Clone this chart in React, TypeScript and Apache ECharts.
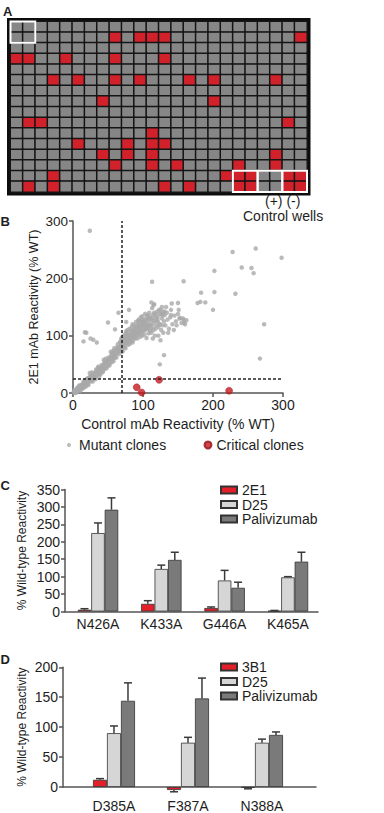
import { useEffect, useRef } from "react";
import * as echarts from "echarts";

// ---------- Panel A: 384-well screening plate ----------
const plateCols = 24;
const plateRows = 16;
// [column, row] of wells scored as hits
const hitWells: number[][] = [
  [8, 1], [10, 1], [11, 1], [12, 1], [23, 1],
  [0, 3], [1, 3], [4, 3], [8, 3], [12, 3],
  [3, 5], [5, 5], [8, 5], [10, 5], [14, 5], [16, 5], [21, 5],
  [7, 7], [16, 7],
  [1, 9], [2, 9], [22, 9],
  [11, 10],
  [5, 11], [9, 11], [11, 11], [12, 11],
  [7, 12], [9, 12], [11, 12], [21, 12],
  [8, 13], [11, 13], [13, 13], [18, 13], [21, 13],
  [3, 14], [17, 14], [18, 14], [19, 14], [22, 14], [23, 14],
  [1, 15], [3, 15], [12, 15], [14, 15], [18, 15], [19, 15], [22, 15], [23, 15],
];
// top-left well of each outlined 2x2 block
const controlBlocks: number[][] = [[0, 0], [18, 14], [20, 14], [22, 14]];

// ---------- Panel B: reactivity screen ----------
const controlCutoff = 70;
const epitopeCutoff = 25;
const mutantClones: number[][] = [
  [1, 2], [2, 1], [3, 4], [4, 2], [5, 6], [6, 3], [7, 8], [8, 5], [9, 10], [10, 7], [2, 5], [5, 1], [8, 11], [3, 0], [6, 9], [10, 4], [9, 13],
  [11, 9], [12, 14], [13, 10], [14, 16], [15, 12], [16, 18], [17, 13], [18, 20], [19, 15], [12, 6], [15, 20], [18, 11], [20, 22], [11, 13], [14, 8], [17, 22], [19, 24],
  [21, 17], [22, 24], [23, 19], [24, 27], [25, 22], [26, 29], [27, 24], [28, 31], [29, 26], [30, 33], [22, 14], [25, 30], [28, 20], [24, 35], [27, 36], [30, 28], [21, 26],
  [31, 30], [32, 36], [33, 28], [34, 38], [35, 33], [36, 40], [37, 35], [38, 42], [39, 37], [40, 45], [32, 24], [35, 42], [38, 30], [40, 38], [36, 46], [33, 41],
  [41, 40], [42, 47], [43, 44], [44, 50], [45, 42], [46, 52], [47, 47], [48, 55], [49, 50], [50, 57], [42, 36], [45, 55], [48, 43], [50, 48], [44, 58], [47, 60],
  [51, 55], [52, 60], [53, 52], [54, 63], [55, 58], [56, 66], [57, 60], [58, 68], [59, 63], [60, 70], [52, 48], [55, 68], [58, 56], [60, 62], [54, 72], [57, 73], [59, 78],
  [61, 67], [62, 74], [63, 70], [64, 77], [65, 72], [66, 80], [67, 75], [68, 83], [69, 78], [70, 86], [62, 62], [64, 85], [66, 68], [68, 90], [70, 72], [63, 80], [67, 88], [69, 95],
  [71, 80], [72, 88], [73, 84], [74, 92], [75, 86], [76, 95], [77, 90], [78, 98], [79, 93], [80, 100], [71, 73], [73, 100], [75, 78], [77, 104], [79, 84], [72, 94], [76, 108], [78, 88], [80, 92], [74, 80],
  [81, 95], [82, 102], [83, 90], [84, 106], [85, 98], [86, 110], [87, 100], [88, 112], [89, 96], [90, 115], [81, 86], [83, 108], [85, 88], [87, 118], [89, 104], [82, 96], [84, 115], [86, 92], [88, 106], [90, 100],
  [91, 108], [92, 118], [93, 102], [94, 120], [95, 110], [96, 124], [97, 105], [98, 114], [99, 128], [100, 108], [92, 95], [94, 112], [96, 98], [98, 122], [100, 118], [93, 126], [95, 104], [97, 132], [99, 100],
  [101, 115], [102, 125], [103, 110], [104, 130], [105, 120], [106, 112], [107, 135], [108, 118], [109, 126], [110, 108], [102, 102], [104, 122], [106, 128], [108, 104], [110, 132], [103, 138], [105, 96], [107, 115], [109, 140],
  [111, 120], [112, 128], [113, 115], [114, 136], [115, 110], [116, 126], [117, 100], [118, 134], [119, 118], [120, 142], [112, 105], [114, 95], [116, 140], [118, 112], [120, 125], [113, 148],
  [121, 132], [122, 115], [123, 138], [124, 120], [125, 145], [126, 110], [127, 130], [128, 118], [129, 142], [130, 125], [122, 100], [125, 92], [127, 150], [129, 105], [131, 136],
  [132, 118], [134, 140], [135, 128], [137, 112], [139, 132], [140, 145], [142, 120], [145, 135], [147, 125], [150, 138], [133, 150], [136, 105], [141, 156], [144, 110], [148, 118], [152, 130], [155, 122], [158, 128], [160, 120],
  [15, 10], [18, 17], [20, 14], [23, 25], [26, 21], [28, 27], [31, 35], [34, 31], [37, 44], [39, 33], [41, 49], [43, 38], [46, 44], [48, 51], [51, 62],
  [53, 58], [56, 54], [58, 72], [61, 75], [62, 69], [65, 79], [66, 74], [68, 79], [70, 93], [71, 98], [72, 84], [74, 99], [75, 104], [76, 88], [78, 110],
  [79, 102], [81, 112], [82, 90], [84, 98], [85, 120], [86, 104], [88, 96], [90, 124], [91, 113], [92, 106], [94, 128], [95, 118], [96, 114], [98, 108], [99, 134],
  [100, 126], [101, 122], [103, 118], [104, 112], [106, 136], [108, 130], [110, 118], [111, 112], [113, 130], [115, 122], [117, 138], [119, 130], [121, 126], [123, 145], [126, 138], [128, 135],
  [24, 283], [113, 194], [158, 195], [228, 246], [261, 252], [298, 236], [241, 219], [255, 218], [258, 209], [202, 213],
  [202, 176], [183, 175], [232, 173], [200, 145], [273, 120], [267, 60], [178, 157], [182, 159], [189, 158], [150, 157],
  [151, 145], [153, 131], [159, 123], [162, 127], [157, 130], [140, 136], [131, 142], [127, 138], [115, 153], [116, 155],
  [80, 145], [65, 140], [50, 123], [60, 111], [19, 105], [15, 90], [34, 88], [29, 93], [124, 50], [130, 66],
  [25, 95], [17, 106], [76, 124], [112, 158], [124, 120],
];
const criticalClones: number[][] = [[91, 10], [98, 1], [123, 23], [223, 4]];

// ---------- Panel C: 2E1 epitope mutants ----------
const cMutants = ["N426A", "K433A", "G446A", "K465A"];
const c2E1 = [5, 22, 10, 2];
const c2E1Sd = [3, 9, 3, 1];
const cD25 = [225, 122, 89, 98];
const cD25Sd = [29, 11, 29, 2];
const cPali = [292, 148, 68, 143];
const cPaliSd = [34, 22, 16, 27];

// ---------- Panel D: 3B1 epitope mutants ----------
const dMutants = ["D385A", "F387A", "N388A"];
const d3B1 = [12, -5, -1];
const d3B1Sd = [2, 3, 2];
const dD25 = [90, 74, 74];
const dD25Sd = [12, 9, 6];
const dPali = [144, 148, 87];
const dPaliSd = [30, 34, 5];

const FONT = "'Liberation Sans', Arial, Helvetica, sans-serif";
const INK = "#1e1e1e";
const AXIS = "#555555";
const RED = "#e3202a";
const LIGHT = "#d6d6d6";
const DARK = "#7a7a7a";

const pairs = (vals: number[]) => vals.map((v, i) => [i, v]);
const errRows = (vals: number[], sds: number[], slot: number) =>
  vals.map((v, i) => [i, v, sds[i], slot]);

function errorBarItem(barWidth: number) {
  return (_params: any, api: any) => {
    const xi = api.value(0);
    const mean = api.value(1);
    const sd = api.value(2);
    const slot = api.value(3);
    const base = api.coord([xi, mean]);
    const tip = api.coord([xi, mean < 0 ? mean - sd : mean + sd]);
    const x = base[0] + (slot - 1) * barWidth;
    const style = { stroke: "#3a3a3a", lineWidth: 1.5 };
    return {
      type: "group",
      children: [
        { type: "line", shape: { x1: x, y1: base[1], x2: x, y2: tip[1] }, style },
        { type: "line", shape: { x1: x - 4, y1: tip[1], x2: x + 4, y2: tip[1] }, style },
      ],
    };
  };
}

const axisLine = { show: true, onZero: false, lineStyle: { color: AXIS, width: 1.5 } };
const axisTick = { show: true, length: 4, lineStyle: { color: AXIS, width: 1.5 } };
const tickLabel = { fontSize: 14, color: INK, fontFamily: FONT, margin: 5 };

export default function App() {
  const ref = useRef<HTMLDivElement>(null);

  useEffect(() => {
    if (!ref.current) return;
    const chart = echarts.init(ref.current, undefined, { renderer: "svg" });

    const hitSet = new Set(hitWells.map(([c, r]) => `${c}-${r}`));
    const plateData: number[][] = [];
    for (let r = 0; r < plateRows; r++) {
      for (let c = 0; c < plateCols; c++) {
        plateData.push([c, r, hitSet.has(`${c}-${r}`) ? 1 : 0]);
      }
    }
    const colNames = Array.from({ length: plateCols }, (_, i) => String(i + 1));
    const rowNames = Array.from({ length: plateRows }, (_, i) => String.fromCharCode(65 + i));

    const barStyle = (color: string) => ({ color, borderColor: "#333", borderWidth: 0.8 });
    const CW = 13.5;
    const DW = 14;

    const option: any = {
      animation: false,
      textStyle: { fontFamily: FONT, color: INK },
      grid: [
        { left: 10.5, top: 21.5, width: 296.5, height: 170.5, show: true, borderColor: "#0d0d0d", borderWidth: 7, backgroundColor: "transparent" },
        { left: 73, top: 221, width: 210, height: 172 },
        { left: 65, top: 489.5, width: 253, height: 122 },
        { left: 63, top: 667.3, width: 253, height: 120.4 },
      ],
      visualMap: {
        type: "piecewise",
        show: false,
        seriesIndex: 0,
        dimension: 2,
        pieces: [
          { value: 0, color: "#868686" },
          { value: 1, color: "#d1212a" },
        ],
      },
      xAxis: [
        { type: "category", gridIndex: 0, data: colNames, show: false },
        {
          type: "value", gridIndex: 1, min: 0, max: 300, interval: 100,
          name: "Control mAb Reactivity (% WT)", nameLocation: "middle", nameGap: 24, nameMoveOverlap: false,
          nameTextStyle: { fontSize: 14, color: INK, fontFamily: FONT },
          axisLine, axisTick, axisLabel: tickLabel, splitLine: { show: false },
        },
        {
          type: "value", gridIndex: 2, min: -0.521, max: 3.475,
          axisLine, axisTick: { show: false }, splitLine: { show: false },
          axisLabel: { ...tickLabel, customValues: [0, 1, 2, 3], formatter: (v: number) => cMutants[Math.round(v)] ?? "" },
        },
        {
          type: "value", gridIndex: 3, min: -0.689, max: 2.73,
          axisLine, axisTick: { show: false }, splitLine: { show: false },
          axisLabel: { ...tickLabel, margin: 12, customValues: [0, 1, 2], formatter: (v: number) => dMutants[Math.round(v)] ?? "" },
        },
      ],
      yAxis: [
        { type: "category", gridIndex: 0, data: rowNames, inverse: true, show: false },
        {
          type: "value", gridIndex: 1, min: 0, max: 300, interval: 100,
          name: "2E1 mAb Reactivity (% WT)", nameLocation: "middle", nameGap: 33, nameRotate: 90, nameMoveOverlap: false,
          nameTextStyle: { fontSize: 12.5, color: INK, fontFamily: FONT },
          axisLine, axisTick, axisLabel: { ...tickLabel, fontSize: 13.5 }, splitLine: { show: false },
        },
        {
          type: "value", gridIndex: 2, min: 0, max: 350, interval: 50,
          name: "% Wild-type Reactivity", nameLocation: "middle", nameGap: 37, nameRotate: 90, nameMoveOverlap: false,
          nameTextStyle: { fontSize: 12, color: INK, fontFamily: FONT },
          axisLine, axisTick, axisLabel: tickLabel, splitLine: { show: false },
        },
        {
          type: "value", gridIndex: 3, min: 0, max: 200, interval: 50,
          name: "% Wild-type Reactivity", nameLocation: "middle", nameGap: 35, nameRotate: 90, nameMoveOverlap: false,
          nameTextStyle: { fontSize: 12, color: INK, fontFamily: FONT },
          axisLine, axisTick, axisLabel: tickLabel, splitLine: { show: false },
        },
      ],
      legend: [
        {
          data: ["Mutant clones"], left: 67, top: 438, padding: 0, icon: "circle",
          itemWidth: 4, itemHeight: 4, selectedMode: false,
          textStyle: { fontSize: 14, color: INK, fontFamily: FONT, padding: [0, 0, 0, 3] },
        },
        {
          data: ["Critical clones"], left: 203.5, top: 438, padding: 0, icon: "circle",
          itemWidth: 7, itemHeight: 7, selectedMode: false,
          textStyle: { fontSize: 14, color: INK, fontFamily: FONT },
        },
        {
          data: ["2E1", "D25", "Palivizumab"], orient: "vertical", left: 220, top: 483, padding: 0,
          icon: "rect", itemWidth: 16, itemHeight: 7, itemGap: 0.5, selectedMode: false,
          textStyle: { fontSize: 14, lineHeight: 14, color: INK, fontFamily: FONT },
        },
        {
          data: ["3B1", "D25", "Palivizumab"], orient: "vertical", left: 220, top: 660, padding: 0,
          icon: "rect", itemWidth: 16, itemHeight: 7, itemGap: 0.5, selectedMode: false,
          textStyle: { fontSize: 14, lineHeight: 14, color: INK, fontFamily: FONT },
        },
      ],
      graphic: [
        { type: "text", x: 3, y: 11.5, style: { text: "A", fontSize: 13, fontWeight: "bold", fontFamily: FONT, fill: INK, verticalAlign: "middle" } },
        { type: "text", x: 0.5, y: 221, style: { text: "B", fontSize: 13, fontWeight: "bold", fontFamily: FONT, fill: INK, verticalAlign: "middle" } },
        { type: "text", x: 0.5, y: 485.5, style: { text: "C", fontSize: 13, fontWeight: "bold", fontFamily: FONT, fill: INK, verticalAlign: "middle" } },
        { type: "text", x: 0.5, y: 659, style: { text: "D", fontSize: 13, fontWeight: "bold", fontFamily: FONT, fill: INK, verticalAlign: "middle" } },
        { type: "text", x: 265, y: 201, style: { text: "(+) (-)", fontSize: 14, fontFamily: FONT, fill: INK, verticalAlign: "middle" } },
        { type: "text", x: 243, y: 216, style: { text: "Control wells", fontSize: 14, fontFamily: FONT, fill: INK, verticalAlign: "middle" } },
      ],
      series: [
        {
          type: "heatmap", xAxisIndex: 0, yAxisIndex: 0, data: plateData,
          itemStyle: { borderColor: "#151515", borderWidth: 1.5 },
          emphasis: { disabled: true }, silent: true,
        },
        {
          type: "custom", xAxisIndex: 0, yAxisIndex: 0, data: controlBlocks, silent: true, z: 5,
          renderItem: (_p: any, api: any) => {
            const c = api.coord([api.value(0), api.value(1)]);
            const s = api.size([1, 1]);
            return {
              type: "rect",
              shape: { x: c[0] - s[0] / 2, y: c[1] - s[1] / 2, width: s[0] * 2, height: s[1] * 2 },
              style: { fill: "none", stroke: "#ffffff", lineWidth: 2 },
            };
          },
        },
        {
          name: "Mutant clones", type: "scatter", xAxisIndex: 1, yAxisIndex: 1, data: mutantClones,
          symbolSize: 4.5, itemStyle: { color: "#a9a9a9" }, silent: true,
        },
        {
          name: "Critical clones", type: "scatter", xAxisIndex: 1, yAxisIndex: 1, data: criticalClones,
          symbolSize: 7, itemStyle: { color: "#c8161d", borderColor: "#8e1016", borderWidth: 0.5 }, z: 4, silent: true,
          markLine: {
            silent: true, symbol: "none", label: { show: false },
            lineStyle: { color: "#222", width: 1.5, type: [3, 2] },
            data: [{ xAxis: controlCutoff }, { yAxis: epitopeCutoff }],
          },
        },
        { name: "2E1", type: "bar", xAxisIndex: 2, yAxisIndex: 2, data: pairs(c2E1), barWidth: CW, barGap: "0%", itemStyle: barStyle(RED), clip: false, silent: true },
        { name: "D25", type: "bar", xAxisIndex: 2, yAxisIndex: 2, data: pairs(cD25), barWidth: CW, barGap: "0%", itemStyle: barStyle(LIGHT), clip: false, silent: true },
        { name: "Palivizumab", type: "bar", xAxisIndex: 2, yAxisIndex: 2, data: pairs(cPali), barWidth: CW, barGap: "0%", itemStyle: barStyle(DARK), clip: false, silent: true },
        {
          type: "custom", xAxisIndex: 2, yAxisIndex: 2, clip: false, silent: true,
          data: [...errRows(c2E1, c2E1Sd, 0), ...errRows(cD25, cD25Sd, 1), ...errRows(cPali, cPaliSd, 2)],
          renderItem: errorBarItem(CW),
        },
        { name: "3B1", type: "bar", xAxisIndex: 3, yAxisIndex: 3, data: pairs(d3B1), barWidth: DW, barGap: "0%", itemStyle: barStyle(RED), clip: false, silent: true },
        { name: "D25", type: "bar", xAxisIndex: 3, yAxisIndex: 3, data: pairs(dD25), barWidth: DW, barGap: "0%", itemStyle: barStyle(LIGHT), clip: false, silent: true },
        { name: "Palivizumab", type: "bar", xAxisIndex: 3, yAxisIndex: 3, data: pairs(dPali), barWidth: DW, barGap: "0%", itemStyle: barStyle(DARK), clip: false, silent: true },
        {
          type: "custom", xAxisIndex: 3, yAxisIndex: 3, clip: false, silent: true,
          data: [...errRows(d3B1, d3B1Sd, 0), ...errRows(dD25, dD25Sd, 1), ...errRows(dPali, dPaliSd, 2)],
          renderItem: errorBarItem(DW),
        },
      ],
    };

    chart.setOption(option);
    return () => chart.dispose();
  }, []);

  return (
    <div
      ref={ref}
      style={{ position: "absolute", left: 0, top: 0, width: 384, height: 813, background: "#ffffff" }}
    />
  );
}
